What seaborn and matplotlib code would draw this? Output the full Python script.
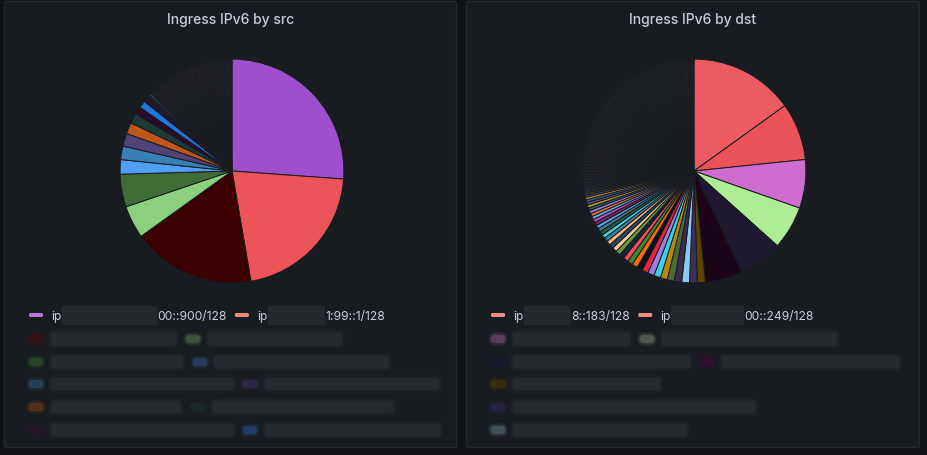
import matplotlib
matplotlib.use("Agg")
import matplotlib.pyplot as plt
from matplotlib.patches import FancyBboxPatch, Rectangle
from itertools import cycle, islice
import seaborn as sns

sns.set_theme(style="dark")
plt.rcParams['font.family'] = ['Inter', 'DejaVu Sans']

# ---------------- data ----------------
titles = ["Ingress IPv6 by src", "Ingress IPv6 by dst"]

src_major_values = [94, 76, 64, 17, 17, 7.5, 7, 6.7, 5.8, 5.3, 4.0, 3.7]
src_major_colors = ["#9f4fcc", "#ec5459", "#3d0000", "#8ccf7c", "#3f6d35", "#4f9ff5",
                    "#3780b6", "#514277", "#c0561c", "#1d3a39", "#2a0c28", "#1f78e0"]
src_accent_values = [1.6, 1.4, 1.3, 0.8]
src_accent_colors = ["#2e1236", "#241a2e", "#1e2836", "#8a70c8"]
src_tail_values = [1.2, 1.4, 1.3, 1.2, 1.5, 1.4, 1.3, 1.2, 1.4,
                   1.5, 1.3, 1.2, 1.4, 1.3, 1.5, 1.2, 1.3, 1.4, 1.3, 1.2, 1.5, 1.4,
                   1.3, 1.2, 1.4, 1.3, 1.5, 1.2, 1.3, 1.4, 1.3, 1.2, 1.5, 1.4, 1.0]
src_tail_colors = ["#26212a", "#1f2529", "#282226", "#1f2429", "#252426", "#22222b",
                   "#262320", "#1f2428"]

dst_major_values = [54.2, 29.8, 25.2, 22.5, 22.8, 19.4]
dst_major_colors = ["#ec5b62", "#ea5458", "#cf6ccf", "#aeec96", "#1e1830", "#1c0518"]
dst_mid_values = [4.2, 4.0, 4.0, 3.8, 3.7, 3.6, 3.5, 3.4, 3.2, 3.0,
                  2.9, 2.8, 2.7, 2.6, 2.5, 2.4, 2.3, 2.2, 2.1, 2.0,
                  2.0, 1.9, 1.8, 1.8, 1.7, 1.7, 1.6, 1.6, 1.5, 1.5,
                  1.4, 1.4, 1.3, 1.2, 1.1, 1.0, 1.0, 0.9, 0.9, 0.9, 1.0]
dst_mid_colors = ["#5c4300", "#3d2e5c", "#8ac8f0", "#3a2a4e", "#4a6a38", "#b8860b",
                  "#38d0e8", "#9a7ee0", "#e8243c", "#0a1016", "#fa6a10", "#3a8a2d",
                  "#f2495c", "#0b2a36", "#6a9a3a", "#ffc890", "#1f4a6a", "#ffb870",
                  "#3a80a8", "#4ad0e8", "#2a5a3a", "#3a7aa0", "#5aa0d0", "#6a2a6a",
                  "#c050c0", "#60a8d8", "#e07830", "#9a80e0", "#2a5a6a", "#c89a20",
                  "#5a4a8a", "#2a6a7a", "#d08030", "#3a4a6a", "#4a3a2a", "#2a3a4a",
                  "#3a2a3a", "#2a3a3a", "#303040", "#2a2a3a", "#26303a"]
dst_tail_values = [1.7, 1.6, 1.5, 1.7, 1.6, 1.5, 1.6, 1.7, 1.5, 1.6, 1.6, 1.5, 1.7,
                   1.6, 1.5, 1.6, 1.7, 1.5, 1.6, 1.6, 1.5, 1.7, 1.6, 1.5, 1.6, 1.7,
                   1.5, 1.6, 1.6, 1.5, 1.7, 1.6, 1.5, 1.6, 1.7, 1.5, 1.6, 1.6, 1.5,
                   1.7, 1.6, 1.5, 1.6, 1.7, 1.5, 1.6, 1.6, 1.5, 1.7, 1.6, 1.5, 1.6,
                   1.7, 1.5, 1.6, 1.6, 1.5, 1.7, 1.6, 1.6]
dst_tail_colors = ["#202227", "#1e2126", "#232127", "#1f2328", "#222026", "#1e2227"]

# legend: (marker colour, visible prefix, hidden-width px, visible suffix)
src_legend_top = [("#b877d9", "ip", 95, "00::900/128"), ("#f2877f", "ip", 57, "1:99::1/128")]
dst_legend_top = [("#f28c8c", "ip", 47, "8::183/128"), ("#f28c8c", "ip", 73, "00::249/128")]
# obscured rows: (marker colour, text width px) per entry
src_legend_rows = [[("#5a0a0a", 125), ("#6f9a66", 134)],
                   [("#3f7a35", 132), ("#3d6ab0", 174)],
                   [("#3a6fa0", 182), ("#4a3a7a", 174)],
                   [("#a0501c", 130), ("#1d3a39", 180)],
                   [("#3a0f38", 182), ("#2f6ac0", 175)]]
dst_legend_rows = [[("#b070b0", 117), ("#8fae88", 175)],
                   [("#1e1840", 177), ("#4a0a40", 177)],
                   [("#5c4a00", 147)],
                   [("#3a2a6a", 242)],
                   [("#7a9aa0", 174)]]

# ---------------- figure ----------------
W, H = 928, 456
BG, PANEL, BORDER, TXT = "#111217", "#181b1f", "#26282e", "#ccccdc"
fig = plt.figure(figsize=(W / 100, H / 100), dpi=100, facecolor=BG)
ov = fig.add_axes([0, 0, 1, 1])
ov.set_xlim(0, W)
ov.set_ylim(H, 0)
ov.axis("off")
ov.set_facecolor(BG)

panels = [(4, 457), (466, 920)]
for (x0, x1), title in zip(panels, titles):
    ov.add_patch(FancyBboxPatch((x0 + 0.5, 2.5), x1 - x0 - 1, 446, boxstyle="round,pad=0,rounding_size=2",
                                facecolor=PANEL, edgecolor=BORDER, linewidth=1))
    ov.text((x0 + x1) / 2, 20, title, color=TXT, fontsize=10, fontweight="medium",
            ha="center", va="center")


def marker(x, y, color, soft=False):
    if soft:
        for pad, a in [(3, 0.08), (1.5, 0.15), (0, 0.28)]:
            ov.add_patch(FancyBboxPatch((x - pad, y - 4 - pad), 14 + 2 * pad, 8 + 2 * pad,
                                        boxstyle="round,pad=0,rounding_size=%g" % (4 + pad),
                                        facecolor=color, edgecolor="none", alpha=a))
    else:
        ov.add_patch(FancyBboxPatch((x, y - 2), 14, 4, boxstyle="round,pad=0,rounding_size=1.5",
                                    facecolor=color, edgecolor="none"))


def soft_text(x, y, w):
    for pad, a in [(3, 0.02), (1.5, 0.03), (0, 0.04)]:
        ov.add_patch(FancyBboxPatch((x - pad, y - 6 - pad), w + 2 * pad, 12 + 2 * pad,
                                    boxstyle="round,pad=0,rounding_size=%g" % (3 + pad),
                                    facecolor=TXT, edgecolor="none", alpha=a))


def top_legend(x_start, entries):
    x = x_start
    for color, pre, hidden, suf in entries:
        marker(x, 316, color)
        ov.text(x + 22, 317, pre, color=TXT, fontsize=8.7, va="center", ha="left")
        hx = x + 33
        ov.add_patch(Rectangle((hx, 306.5), hidden, 19.5, facecolor="#24272c", edgecolor="none"))
        t = ov.text(hx + hidden + 0.5, 317, suf, color=TXT, fontsize=8.7, va="center", ha="left")
        fig.canvas.draw()
        bb = t.get_window_extent()
        x = bb.x1 + 8


top_legend(29, src_legend_top)
top_legend(491, dst_legend_top)

row_y = [340, 363, 385, 408, 431]
for x_start, rows in [(29, src_legend_rows), (491, dst_legend_rows)]:
    for y, row in zip(row_y, rows):
        x = x_start
        for color, w in row:
            marker(x, y, color, soft=True)
            soft_text(x + 22, y, w)
            x = x + 22 + w + 10

# ---------------- pies ----------------
R = 113
src_values = src_major_values + src_accent_values + src_tail_values
src_colors = (src_major_colors + src_accent_colors
              + list(islice(cycle(src_tail_colors), len(src_tail_values))))
dst_values = dst_major_values + dst_mid_values + dst_tail_values
dst_colors = (dst_major_colors + dst_mid_colors
              + list(islice(cycle(dst_tail_colors), len(dst_tail_values))))
for cx, cy, values, colors in [(232, 172, src_values, src_colors),
                               (694, 172, dst_values, dst_colors)]:
    ax = fig.add_axes([(cx - R) / W, 1 - (cy + R) / H, 2 * R / W, 2 * R / H])
    ax.pie(values, colors=colors, startangle=90, counterclock=False, radius=1,
           wedgeprops=dict(edgecolor=PANEL, linewidth=0.7, antialiased=True))
    ax.set_xlim(-1.01, 1.01)
    ax.set_ylim(-1.01, 1.01)
    ax.set_aspect("equal")
    ax.axis("off")

fig.savefig("out.png", dpi=100, facecolor=BG)
